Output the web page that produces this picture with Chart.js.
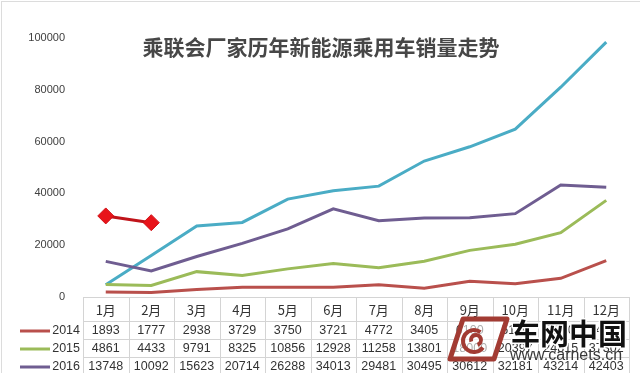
<!DOCTYPE html>
<html>
<head>
<meta charset="utf-8">
<script src="https://cdn.jsdelivr.net/npm/chart.js@4/dist/chart.umd.min.js"></script>
<style>
  html, body { margin: 0; padding: 0; background: #fff; }
  #wrap { position: relative; width: 640px; height: 373px; }
  #myChart { display: block; }
</style>
</head>
<body>
<div id="wrap"><canvas id="myChart" width="640" height="373"></canvas></div>
<script>
// les données
const months = ['1月','2月','3月','4月','5月','6月','7月','8月','9月','10月','11月','12月']
const sales2014 = [1893, 1777, 2938, 3729, 3750, 3721, 4772, 3405, 6100, 5150, 7200, 14026]
const sales2015 = [4861, 4433, 9791, 8325, 10856, 12928, 11258, 13801, 18000, 20397, 24815, 37302]
const sales2016 = [13748, 10092, 15623, 20714, 26288, 34013, 29481, 30495, 30612, 32181, 43214, 42403]
const sales2017 = [4700, 16000, 27400, 28800, 37800, 41000, 42800, 52500, 58000, 64800, 81000, 98400]
const sales2018 = [31300, 28700, null, null, null, null, null, null, null, null, null, null]
const yTicks = [0, 20000, 40000, 60000, 80000, 100000]
const title = '乘联会厂家历年新能源乘用车销量走势'

// lignes du tableau sous le graphe
const tableRows = [
    { label: '2014', color: '#b9504c', values: sales2014 },
    { label: '2015', color: '#9bbb59', values: sales2015 },
    { label: '2016', color: '#6f5d91', values: sales2016 }
]

//************plugin : titre, tableau de données, filigrane***********************//
const tablePlugin = {
    id: 'tablePlugin',
    afterDraw(chart) {
        const ctx = chart.ctx
        const x = chart.scales.x
        const area = chart.chartArea
        const half = (x.getPixelForValue(1) - x.getPixelForValue(0)) / 2
        const left = area.left
        const right = area.right
        const rowsY = [297, 321, 339, 357, 375]
        ctx.save()

        // cadre de l'image
        ctx.strokeStyle = '#dcdcdc'
        ctx.lineWidth = 1
        ctx.strokeRect(1.5, 1.5, 640, 380)

        // titre
        ctx.fillStyle = '#474747'
        ctx.font = 'bold 21px "Noto Sans CJK SC"'
        ctx.textAlign = 'center'
        ctx.textBaseline = 'middle'
        ctx.fillText(title, 321, 47)

        // grille
        ctx.strokeStyle = '#d4d4d4'
        ctx.lineWidth = 1
        rowsY.forEach(y => {
            ctx.beginPath()
            ctx.moveTo(left, y + 0.5)
            ctx.lineTo(right, y + 0.5)
            ctx.stroke()
        })
        for (let i = 0; i <= months.length; i++) {
            const px = Math.round(x.getPixelForValue(i) - half) + 0.5
            ctx.beginPath()
            ctx.moveTo(px, rowsY[0])
            ctx.lineTo(px, rowsY[rowsY.length - 1])
            ctx.stroke()
        }

        // entêtes mois
        ctx.fillStyle = '#333'
        ctx.font = '13px "Noto Sans CJK SC"'
        months.forEach((m, i) => {
            ctx.fillText(m, x.getPixelForValue(i), 310)
        })

        // lignes de valeurs
        ctx.font = '12.5px "Liberation Sans"'
        tableRows.forEach((row, r) => {
            const cy = (rowsY[r + 1] + rowsY[r + 2]) / 2 + 1
            ctx.strokeStyle = row.color
            ctx.lineWidth = 3
            ctx.beginPath()
            ctx.moveTo(20, cy)
            ctx.lineTo(50, cy)
            ctx.stroke()
            ctx.fillStyle = '#333'
            ctx.textAlign = 'right'
            ctx.fillText(row.label, 80, cy)
            ctx.textAlign = 'center'
            row.values.forEach((v, i) => {
                ctx.fillText(String(v), x.getPixelForValue(i), cy)
            })
        })

        // filigrane
        ctx.lineJoin = 'round'
        ctx.fillStyle = 'rgba(255,255,255,0.6)'
        ctx.beginPath()
        ctx.moveTo(463, 319)
        ctx.lineTo(507, 319)
        ctx.lineTo(494, 359)
        ctx.lineTo(450, 359)
        ctx.closePath()
        ctx.fill()
        ctx.strokeStyle = '#a23b33'
        ctx.lineWidth = 5
        ctx.stroke()
        ctx.lineWidth = 4
        ctx.beginPath()
        ctx.arc(474, 341, 11, Math.PI * 0.2, Math.PI * 1.7)
        ctx.stroke()
        ctx.beginPath()
        ctx.arc(476, 340, 5, Math.PI * 0.9, Math.PI * 2.4)
        ctx.stroke()

        ctx.textAlign = 'left'
        ctx.font = 'bold 29px "Noto Sans CJK SC"'
        ctx.lineWidth = 3
        ctx.strokeStyle = '#fff'
        ctx.strokeText('车网中国', 511, 334)
        ctx.fillStyle = '#111'
        ctx.fillText('车网中国', 511, 334)
        ctx.font = '16px "Liberation Sans"'
        ctx.fillStyle = '#3a3a3a'
        ctx.fillText('www.carnets.cn', 510, 356)
        ctx.restore()
    }
}

let ctx = document.getElementById('myChart')
let myChart = new Chart(ctx, {
    type: 'line',
    data: {
        labels: months,
        datasets: [
            { label: '2014', data: sales2014, borderColor: '#b9504c', borderWidth: 3, pointRadius: 0 },
            { label: '2015', data: sales2015, borderColor: '#9bbb59', borderWidth: 3, pointRadius: 0 },
            { label: '2016', data: sales2016, borderColor: '#6f5d91', borderWidth: 3, pointRadius: 0 },
            { label: '2017', data: sales2017, borderColor: '#4aacc5', borderWidth: 3, pointRadius: 0 },
            { label: '2018', data: sales2018, borderColor: '#c0141a', borderWidth: 3,
              pointStyle: 'rectRot', pointRadius: 8, pointBackgroundColor: '#e8141a', pointBorderColor: '#d01016', pointBorderWidth: 1 }
        ]
    },
    options: {
        responsive: false,
        animation: false,
        layout: { padding: { left: 0, top: 38, right: 11, bottom: 76 } },
        plugins: { legend: { display: false }, tooltip: { enabled: false } },
        scales: {
            x: { display: false, offset: true },
            y: {
                min: 0,
                max: 100000,
                afterFit(scale) { scale.width = 83 },
                afterBuildTicks(scale) { scale.ticks = yTicks.map(v => ({ value: v })) },
                grid: { display: false },
                border: { display: false },
                ticks: {
                    color: '#404040',
                    font: { family: 'Liberation Sans', size: 11 },
                    padding: 10,
                    callback: v => String(v)
                }
            }
        }
    },
    plugins: [tablePlugin]
})
</script>
</body>
</html>
